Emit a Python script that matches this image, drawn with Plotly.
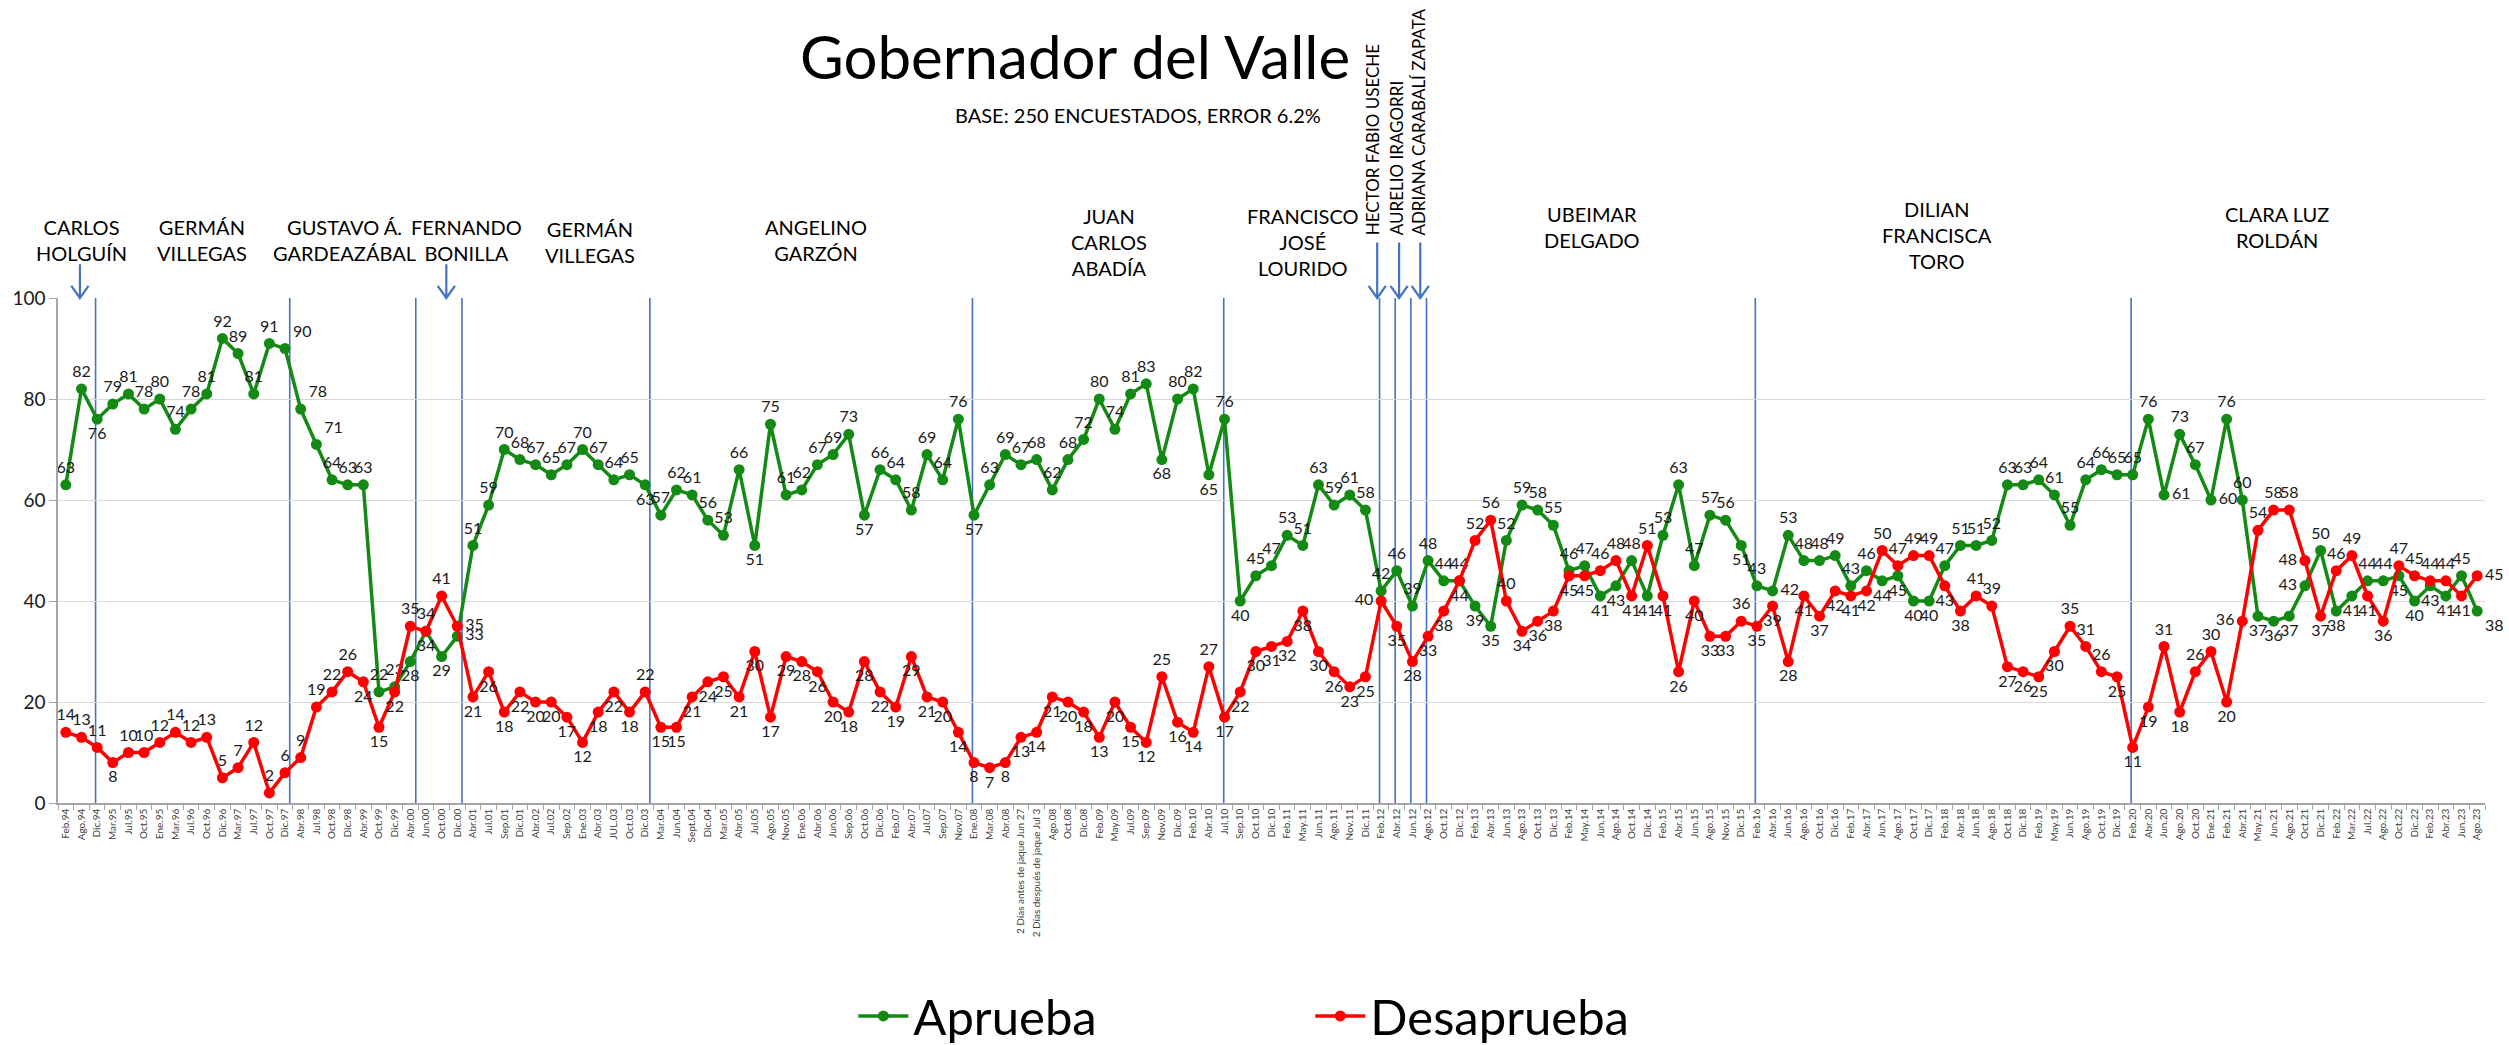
import plotly.graph_objects as go

# Survey dates (category axis)
fechas = [
    "Feb.94", "Ago.94", "Dic.94", "Mar.95", "Jul.95", "Oct.95", "Ene.95", "Mar.96", "Jul.96", "Oct.96",
    "Dic.96", "Mar.97", "Jul.97", "Oct.97", "Dic.97", "Abr.98", "Jul.98", "Oct.98", "Dic.98", "Abr.99",
    "Oct.99", "Dic.99", "Abr.00",
    "Jun.00", "Oct.00", "Dic.00", "Abr.01", "Jul.01", "Sep.01", "Dic.01", "Abr.02", "Jul.02", "Sep.02",
    "Ene.03", "Abr.03", "JUL.03", "Oct.03", "Dic.03", "Mar.04", "Jun.04", "Sept.04", "Dic.04", "Mar.05",
    "Abr.05", "Jul.05", "Ago.05", "Nov.05", "Ene.06", "Abr.06", "Jun.06",
    "Sep.06", "Oct.06", "Dic.06", "Feb.07", "Abr.07", "Jul.07", "Sep.07", "Nov.07", "Ene.08", "Mar.08",
    "Abr.08", "2 Días antes de jaque Jun 27", "2 Días después de jaque Jul 3", "Ago.08", "Oct.08",
    "Dic.08", "Feb.09", "May.09", "Jul.09", "Sep.09", "Nov.09", "Dic.09", "Feb.10", "Abr.10", "Jul.10",
    "Sep.10", "Oct.10",
    "Dic.10", "Feb.11", "May.11", "Jun.11", "Ago.11", "Nov.11", "Dic.11", "Feb.12", "Abr.12", "Jun.12",
    "Ago.12", "Oct.12", "Dic.12", "Feb.13", "Abr.13", "Jun.13", "Ago.13", "Oct.13", "Dic.13", "Feb.14",
    "May.14", "Jun.14", "Ago.14", "Oct.14", "Dic.14", "Feb.15",
    "Abr.15", "Jun.15", "Ago.15", "Nov.15", "Dic.15", "Feb.16", "Abr.16", "Jun.16", "Ago.16", "Oct.16",
    "Dic.16", "Feb.17", "Abr.17", "Jun.17", "Ago.17", "Oct.17", "Dic.17", "Feb.18", "Abr.18", "Jun.18",
    "Ago.18", "Oct.18", "Dic.18", "Feb.19", "May.19", "Jun.19", "Ago.19",
    "Oct.19", "Dic.19", "Feb.20", "Abr.20", "Jun.20", "Ago.20", "Oct.20", "Ene.21", "Feb.21", "Abr.21",
    "May.21", "Jun.21", "Ago.21", "Oct.21", "Dic.21", "Feb.22", "Mar.22", "Jul.22", "Ago.22", "Oct.22",
    "Dic.22", "Feb.23", "Abr.23", "Jun.23", "Ago.23",
]

aprueba = [
    63, 82, 76, 79, 81, 78, 80, 74, 78, 81, 92, 89, 81, 91, 90, 78, 71, 64, 63, 63, 22, 23, 28,
    34, 29, 33, 51, 59, 70, 68, 67, 65, 67, 70, 67, 64, 65, 63, 57, 62, 61, 56, 53, 66, 51, 75, 61, 62, 67, 69,
    73, 57, 66, 64, 58, 69, 64, 76, 57, 63, 69, 67, 68, 62, 68, 72, 80, 74, 81, 83, 68, 80, 82, 65, 76, 40, 45,
    47, 53, 51, 63, 59, 61, 58, 42, 46, 39, 48, 44, 44, 39, 35, 52, 59, 58, 55, 46, 47, 41, 43, 48, 41, 53,
    63, 47, 57, 56, 51, 43, 42, 53, 48, 48, 49, 43, 46, 44, 45, 40, 40, 47, 51, 51, 52, 63, 63, 64, 61, 55, 64,
    66, 65, 65, 76, 61, 73, 67, 60, 76, 60, 37, 36, 37, 43, 50, 38, 41, 44, 44, 45, 40, 43, 41, 45, 38,
]

desaprueba = [
    14, 13, 11, 8, 10, 10, 12, 14, 12, 13, 5, 7, 12, 2, 6, 9, 19, 22, 26, 24, 15, 22, 35,
    34, 41, 35, 21, 26, 18, 22, 20, 20, 17, 12, 18, 22, 18, 22, 15, 15, 21, 24, 25, 21, 30, 17, 29, 28, 26, 20,
    18, 28, 22, 19, 29, 21, 20, 14, 8, 7, 8, 13, 14, 21, 20, 18, 13, 20, 15, 12, 25, 16, 14, 27, 17, 22, 30,
    31, 32, 38, 30, 26, 23, 25, 40, 35, 28, 33, 38, 44, 52, 56, 40, 34, 36, 38, 45, 45, 46, 48, 41, 51, 41,
    26, 40, 33, 33, 36, 35, 39, 28, 41, 37, 42, 41, 42, 50, 47, 49, 49, 43, 38, 41, 39, 27, 26, 25, 30, 35, 31,
    26, 25, 11, 19, 31, 18, 26, 30, 20, 36, 54, 58, 58, 48, 37, 46, 49, 41, 36, 47, 45, 44, 44, 41, 45,
]

# Changes of governor (vertical separators, in category units)
cambios = [1.9, 14.3, 22.35, 25.3, 37.3, 57.9, 73.95, 83.9, 84.9, 85.9, 86.9, 107.9, 131.9]

# Governors written above the plot: (text, x in category units, y in paper units)
gobernadores = [
    ("CARLOS<br>HOLGUÍN", 1.0, 1.115),
    ("GERMÁN<br>VILLEGAS", 8.7, 1.115),
    ("GUSTAVO Á.<br>GARDEAZÁBAL", 17.8, 1.115),
    ("FERNANDO<br>BONILLA", 25.6, 1.115),
    ("GERMÁN<br>VILLEGAS", 33.5, 1.11),
    ("ANGELINO<br>GARZÓN", 47.9, 1.115),
    ("JUAN<br>CARLOS<br>ABADÍA", 66.6, 1.11),
    ("FRANCISCO<br>JOSÉ<br>LOURIDO", 79.0, 1.11),
    ("UBEIMAR<br>DELGADO", 97.5, 1.14),
    ("DILIAN<br>FRANCISCA<br>TORO", 119.5, 1.125),
    ("CLARA LUZ<br>ROLDÁN", 141.2, 1.14),
]
gobernadores_vert = [
    ("HECTOR FABIO USECHE", 83.5),
    ("AURELIO IRAGORRI", 85.0),
    ("ADRIANA CARABALÍ ZAPATA", 86.4),
]
flechas = [(0.9, 1.067), (24.3, 1.067), (83.75, 1.11), (85.15, 1.11), (86.5, 1.11)]

N = len(fechas)
x = list(range(N))

# label placement per point
pos_ap = ["top center"] * N
for i in [2, 22, 23, 24, 37, 44, 51, 58, 70, 73, 75, 90, 91, 98, 99, 101, 107, 116, 117, 118, 119,
          140, 141, 142, 145, 146, 149, 150, 151, 152]:
    pos_ap[i] = "bottom center"
for i in [25, 109, 134, 137]:
    pos_ap[i] = "middle right"
for i in [14, 15, 16]:
    pos_ap[i] = "top right"
pos_ap[143] = "middle left"
pos_ap[154] = "bottom right"

pos_de = ["bottom center"] * N
for i in [0, 1, 2, 4, 5, 6, 7, 8, 9, 10, 11, 12, 13, 14, 15, 16, 17, 18, 22, 23, 24, 37, 70, 73, 90, 91,
          92, 98, 99, 101, 107, 116, 117, 118, 119, 122, 123, 128, 129, 130, 134, 136, 137, 140, 141,
          142, 145, 146, 149, 150, 151, 152]:
    pos_de[i] = "top center"
for i in [25, 154]:
    pos_de[i] = "middle right"
for i in [84, 139, 143]:
    pos_de[i] = "middle left"

VERDE = "#138A13"
ROJO = "#FF0000"
AZUL = "#4472C4"
FONT = "Lato"

fig = go.Figure()
fig.add_trace(go.Scatter(
    x=x, y=aprueba, name="Aprueba", mode="lines+markers+text",
    line=dict(color=VERDE, width=3.5), marker=dict(color=VERDE, size=11),
    text=[str(v) for v in aprueba], textposition=pos_ap,
    textfont=dict(size=16, color="#1a1a1a", family=FONT), cliponaxis=False,
))
fig.add_trace(go.Scatter(
    x=x, y=desaprueba, name="Desaprueba", mode="lines+markers+text",
    line=dict(color=ROJO, width=3.5), marker=dict(color=ROJO, size=11),
    text=[str(v) for v in desaprueba], textposition=pos_de,
    textfont=dict(size=16, color="#1a1a1a", family=FONT), cliponaxis=False,
))

shapes = []
for c in cambios:
    shapes.append(dict(type="line", xref="x", yref="y", x0=c, x1=c, y0=0, y1=100,
                       line=dict(color=AZUL, width=1.6), layer="below"))
for fx, ftop in flechas:
    path = (f"M {fx},{ftop} L {fx},1.0 "
            f"M {fx - 0.55},1.024 L {fx},1.0 L {fx + 0.55},1.024")
    shapes.append(dict(type="path", xref="x", yref="paper", path=path,
                       line=dict(color=AZUL, width=2.2)))

annotations = [
    dict(text="Gobernador del Valle", xref="paper", yref="paper", x=0.419, y=1.48,
         xanchor="center", yanchor="middle", showarrow=False,
         font=dict(size=60, color="black", family=FONT)),
    dict(text="BASE: 250 ENCUESTADOS, ERROR 6.2%", xref="paper", yref="paper", x=0.445, y=1.362,
         xanchor="center", yanchor="middle", showarrow=False,
         font=dict(size=20, color="black", family=FONT)),
]
for txt, gx, gy in gobernadores:
    annotations.append(dict(text=txt, xref="x", yref="paper", x=gx, y=gy, xanchor="center",
                            yanchor="middle", showarrow=False,
                            font=dict(size=20, color="black", family=FONT)))
for txt, gx in gobernadores_vert:
    annotations.append(dict(text=txt, xref="x", yref="paper", x=gx, y=1.12, xanchor="center",
                            yanchor="bottom", showarrow=False, textangle=-90,
                            font=dict(size=17, color="black", family=FONT)))

fig.update_layout(
    width=2509, height=1045,
    margin=dict(l=58, r=24, t=298, b=242, autoexpand=False),
    paper_bgcolor="white", plot_bgcolor="white",
    font=dict(family=FONT, color="#1a1a1a"),
    shapes=shapes, annotations=annotations,
    legend=dict(orientation="h", x=0.516, xanchor="center", y=-0.422, yanchor="middle",
                font=dict(size=49, color="black", family=FONT),
                entrywidth=392, itemwidth=50),
    xaxis=dict(range=[-0.5, N - 0.5], tickmode="array", tickvals=x, ticktext=fechas,
               tickangle=-90, tickfont=dict(size=10, color="#404040", family=FONT),
               showgrid=False, zeroline=False, showline=True, linecolor="#A6A6A6", linewidth=1.5,
               ticks="",
               minor=dict(tickvals=[i - 0.5 for i in range(N + 1)], ticks="outside", ticklen=5,
                          tickcolor="#A6A6A6", tickwidth=1, showgrid=False)),
    yaxis=dict(range=[0, 100], tickmode="array", tickvals=[0, 20, 40, 60, 80, 100],
               tickfont=dict(size=19, color="#1a1a1a", family=FONT),
               showgrid=True, gridcolor="#D9D9D9", gridwidth=1, zeroline=False,
               showline=True, linecolor="#A6A6A6", linewidth=1.5,
               ticks="outside", ticklen=7, tickcolor="#A6A6A6"),
)

fig.write_html("out.html")
